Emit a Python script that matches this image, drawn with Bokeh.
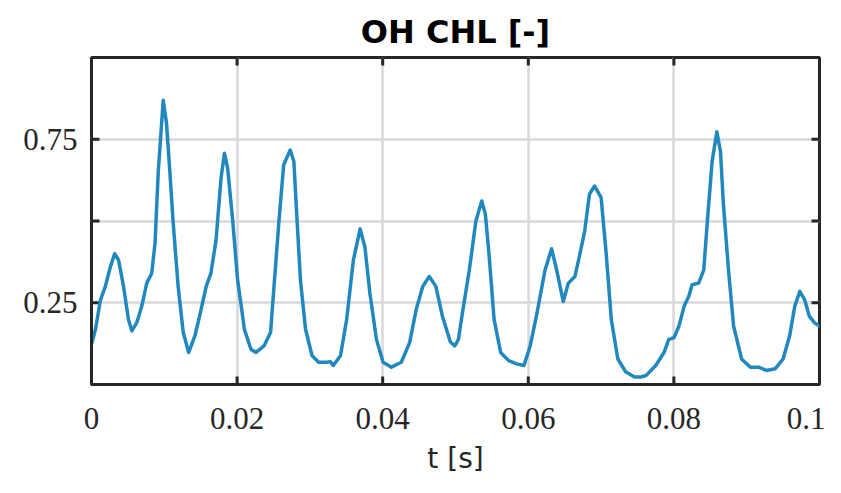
import math
from bokeh.plotting import figure
from bokeh.models import FixedTicker, Range1d
from bokeh.embed import file_html
from bokeh.resources import INLINE

# ---- data ----
t_s = [0.0, 0.00055, 0.00123, 0.0019, 0.0026, 0.00318, 0.00372, 0.0044, 0.00508, 0.00554,
       0.00622, 0.0069, 0.00759, 0.00827, 0.00872, 0.00917, 0.00985, 0.0103, 0.01076, 0.0112,
       0.0119, 0.0126, 0.01335, 0.0142, 0.01485, 0.01576, 0.0164, 0.0171, 0.0178, 0.01826,
       0.0187, 0.0194, 0.02007, 0.021, 0.0219, 0.0226, 0.0237, 0.0246, 0.02507, 0.02575,
       0.0264, 0.0273, 0.0278, 0.02824, 0.0287, 0.0294, 0.0303, 0.0312, 0.0323, 0.0328,
       0.0332, 0.0342, 0.03505, 0.03597, 0.0369, 0.03756, 0.03824, 0.03914, 0.04005, 0.0412,
       0.04255, 0.0437, 0.0446, 0.0455, 0.0464, 0.0473, 0.0482, 0.0493, 0.0499, 0.0504,
       0.05095, 0.0519, 0.0528, 0.0536, 0.0541, 0.0546, 0.0553, 0.0562, 0.0573, 0.0584,
       0.0594, 0.06026, 0.0612, 0.0623, 0.0632, 0.0639, 0.0648, 0.0655, 0.0664, 0.0671,
       0.06775, 0.0684, 0.0691, 0.07, 0.0707, 0.0714, 0.0723, 0.0734, 0.0746, 0.0755,
       0.0762, 0.0775, 0.07865, 0.0793, 0.08, 0.0807, 0.0814, 0.08205, 0.0825, 0.0834,
       0.0841, 0.0846, 0.08525, 0.0859, 0.0864, 0.0868, 0.0875, 0.0882, 0.0893, 0.0905,
       0.0916, 0.0927, 0.0939, 0.095, 0.0959, 0.0966, 0.0973, 0.09796, 0.0986, 0.0993, 0.1]
oh_chl = [0.123, 0.169, 0.259, 0.30, 0.36, 0.40, 0.38, 0.30, 0.199, 0.164,
          0.189, 0.239, 0.31, 0.34, 0.43, 0.65, 0.869, 0.80, 0.652, 0.50,
          0.30, 0.159, 0.098, 0.149, 0.209, 0.30, 0.34, 0.44, 0.632, 0.707,
          0.662, 0.50, 0.32, 0.169, 0.108, 0.098, 0.118, 0.16, 0.30, 0.50,
          0.672, 0.717, 0.682, 0.50, 0.32, 0.169, 0.088, 0.068, 0.068, 0.07,
          0.058, 0.088, 0.199, 0.38, 0.476, 0.42, 0.279, 0.138, 0.068, 0.053,
          0.068, 0.128, 0.229, 0.30, 0.33, 0.30, 0.209, 0.13, 0.118, 0.138,
          0.219, 0.35, 0.50, 0.561, 0.521, 0.40, 0.199, 0.098, 0.073, 0.063,
          0.058, 0.118, 0.219, 0.35, 0.415, 0.35, 0.254, 0.31, 0.33, 0.40,
          0.47, 0.582, 0.607, 0.572, 0.40, 0.199, 0.078, 0.038, 0.023, 0.023,
          0.028, 0.058, 0.098, 0.138, 0.143, 0.179, 0.239, 0.27, 0.305, 0.31,
          0.35, 0.50, 0.682, 0.773, 0.712, 0.551, 0.35, 0.179, 0.078, 0.053,
          0.053, 0.043, 0.048, 0.078, 0.149, 0.239, 0.285, 0.259, 0.209, 0.189, 0.179]

x_ticks = [0.0, 0.02, 0.04, 0.06, 0.08, 0.1]
x_tick_labels = ["0", "0.02", "0.04", "0.06", "0.08", "0.1"]
y_ticks = [0.25, 0.5, 0.75]
y_tick_labels = ["0.25", "", "0.75"]
x_limits = [0.0, 0.1]
y_limits = [0.0, 1.0]

title_text = "OH CHL [-]"
x_label = "t [s]"

AX = "#262626"
LINE = "#2188be"
GRID = "#d9d9d9"
TICK_LEN = 8

p = figure(width=825, height=477, output_backend="svg", toolbar_location=None,
           x_range=Range1d(*x_limits), y_range=Range1d(*y_limits),
           min_border_left=91, min_border_right=6, min_border_top=57, min_border_bottom=93,
           title=title_text, x_axis_label=x_label)
p.outline_line_color = AX
p.outline_line_width = 3
p.background_fill_color = "white"
p.border_fill_color = "white"

p.title.align = "center"
p.title.vertical_align = "top"
p.title.text_font = "DejaVu Sans"
p.title.text_font_size = "32px"
p.title.text_font_style = "bold"
p.title.text_color = "#000000"
p.title.text_line_height = 0.7
p.title.standoff = 10

labeled_x = [(t, l) for t, l in zip(x_ticks, x_tick_labels) if l]
labeled_y = [(t, l) for t, l in zip(y_ticks, y_tick_labels) if l]

xa = p.xaxis[0]
xa.ticker = FixedTicker(ticks=[t for t, _ in labeled_x])
xa.major_label_overrides = {t: l for t, l in labeled_x}
xa.major_label_text_font = "Liberation Serif"
xa.major_label_text_font_size = "31px"
xa.major_label_text_color = AX
xa.major_label_standoff = 23
xa.axis_label_text_font = "DejaVu Sans"
xa.axis_label_text_font_size = "28px"
xa.axis_label_text_font_style = "normal"
xa.axis_label_text_color = AX
xa.axis_label_standoff = 10

ya = p.yaxis[0]
ya.ticker = FixedTicker(ticks=[t for t, _ in labeled_y])
ya.major_label_overrides = {t: l for t, l in labeled_y}
ya.major_label_text_font = "Liberation Serif"
ya.major_label_text_font_size = "31px"
ya.major_label_text_color = AX
ya.major_label_standoff = 14

for ax in (xa, ya):
    ax.axis_line_color = AX
    ax.axis_line_width = 3
    ax.major_tick_in = 0
    ax.major_tick_out = 0
    ax.major_tick_line_color = None
    ax.minor_tick_line_color = None

p.xgrid.ticker = FixedTicker(ticks=x_ticks)
p.ygrid.ticker = FixedTicker(ticks=y_ticks)
for g in (p.xgrid[0], p.ygrid[0]):
    g.grid_line_color = GRID
    g.grid_line_width = 2.5

# inward tick marks on all four sides of the box (MATLAB style)
inner_x = x_ticks[1:-1]
p.ray(x=inner_x, y=[y_limits[0]] * len(inner_x), length=TICK_LEN, length_units="screen",
      angle=math.pi / 2, line_color=AX, line_width=3)
p.ray(x=inner_x, y=[y_limits[1]] * len(inner_x), length=TICK_LEN, length_units="screen",
      angle=-math.pi / 2, line_color=AX, line_width=3)
p.ray(x=[x_limits[0]] * len(y_ticks), y=y_ticks, length=TICK_LEN, length_units="screen",
      angle=0, line_color=AX, line_width=3)
p.ray(x=[x_limits[1]] * len(y_ticks), y=y_ticks, length=TICK_LEN, length_units="screen",
      angle=math.pi, line_color=AX, line_width=3)

p.line(t_s, oh_chl, line_color=LINE, line_width=3.5, line_join="round", line_cap="round")

open("out.html", "w").write(file_html(p, INLINE))
